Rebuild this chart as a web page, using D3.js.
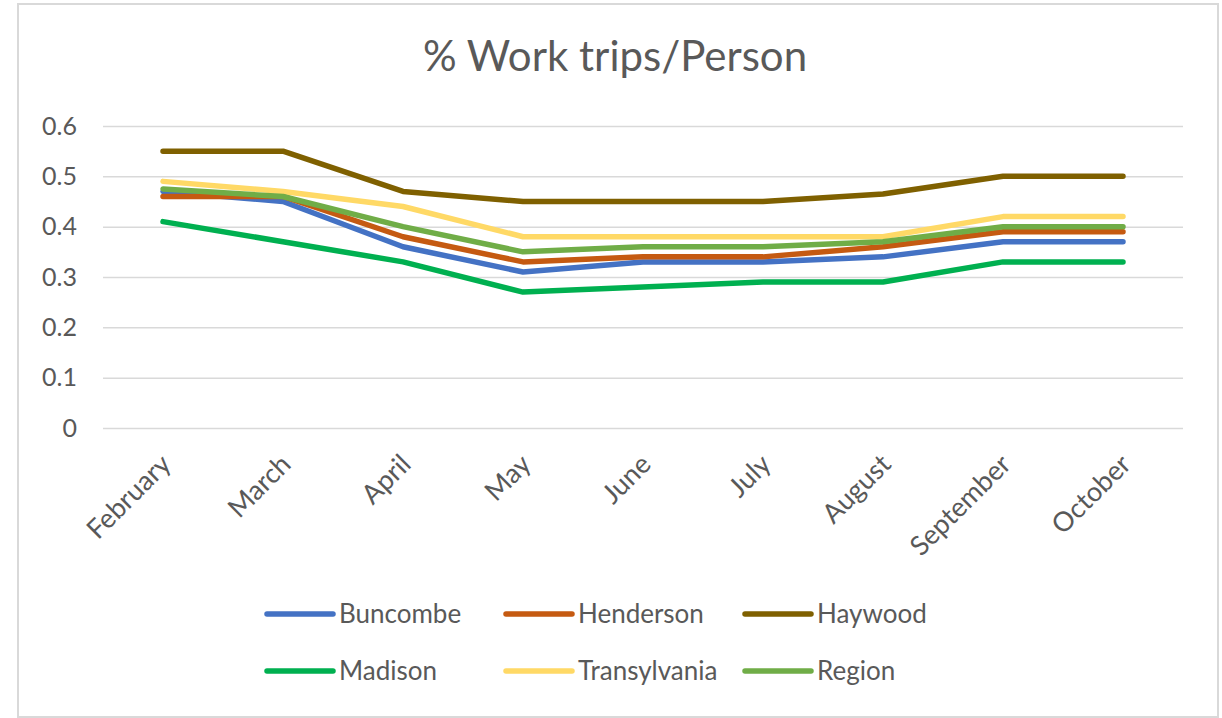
<!DOCTYPE html>
<html>
<head>
<meta charset="utf-8">
<script src="https://cdn.jsdelivr.net/npm/d3@7"></script>
<style>
  html, body { margin: 0; padding: 0; background: #ffffff; }
  svg { display: block; }
  text { font-family: Lato, "Open Sans", sans-serif; fill: #595959; }
</style>
</head>
<body>
<svg id="chart" width="1222" height="718"></svg>
<script>
// Monthly share of work trips per person, by county
const months = ["February", "March", "April", "May", "June", "July", "August", "September", "October"];
const seriesNames = ["Buncombe", "Henderson", "Haywood", "Madison", "Transylvania", "Region"];
const buncombe     = [0.47, 0.45, 0.36, 0.31, 0.33, 0.33, 0.34, 0.37, 0.37];
const henderson    = [0.46, 0.46, 0.38, 0.33, 0.34, 0.34, 0.36, 0.39, 0.39];
const haywood      = [0.55, 0.55, 0.47, 0.45, 0.45, 0.45, 0.465, 0.50, 0.50];
const madison      = [0.41, 0.37, 0.33, 0.27, 0.28, 0.29, 0.29, 0.33, 0.33];
const transylvania = [0.49, 0.47, 0.44, 0.38, 0.38, 0.38, 0.38, 0.42, 0.42];
const region       = [0.475, 0.46, 0.40, 0.35, 0.36, 0.36, 0.37, 0.40, 0.40];
const yTicks = [0, 0.1, 0.2, 0.3, 0.4, 0.5, 0.6];
const colors = ["#4472C4", "#C55A11", "#7F6000", "#00B050", "#FFD966", "#70AD47"];

const seriesValues = [buncombe, henderson, haywood, madison, transylvania, region];
const series = seriesNames.map((name, i) => ({ name, values: seriesValues[i], color: colors[i] }));

const svg = d3.select("#chart");

// chart frame
svg.append("rect")
  .attr("x", 18).attr("y", 4).attr("width", 1200).attr("height", 713)
  .attr("fill", "#ffffff").attr("stroke", "#d9d9d9").attr("stroke-width", 2);

const plot = { left: 103, right: 1183, top: 126, bottom: 428 };

const x = d3.scalePoint().domain(months).range([plot.left, plot.right]).padding(0.5);
const y = d3.scaleLinear().domain([0, 0.6]).range([plot.bottom, plot.top]);

// title
svg.append("text")
  .attr("x", 615).attr("y", 71)
  .attr("text-anchor", "middle")
  .style("font-size", "42px")
  .text("% Work trips/Person");

// horizontal gridlines + y labels
const yAxis = d3.axisLeft(y).tickValues(yTicks).tickSize(-(plot.right - plot.left)).tickPadding(26)
  .tickFormat(d => d === 0 ? "0" : d3.format(".1f")(d));
const yG = svg.append("g").attr("transform", `translate(${plot.left},0)`).call(yAxis);
yG.select(".domain").remove();
yG.selectAll(".tick line").attr("stroke", "#d9d9d9").attr("stroke-width", 1.5);
yG.selectAll(".tick text").style("font-size", "25px").attr("fill", "#595959")
  .style("font-family", "Lato, 'Open Sans', sans-serif");

// category labels, rotated
const xAxis = d3.axisBottom(x).tickSize(0).tickPadding(0);
const xG = svg.append("g").attr("transform", `translate(0,${plot.bottom})`).call(xAxis);
xG.select(".domain").remove();
xG.selectAll(".tick text")
  .style("font-size", "27px").attr("fill", "#595959")
  .style("font-family", "Lato, 'Open Sans', sans-serif")
  .attr("text-anchor", "end")
  .attr("dy", null)
  .attr("y", 0)
  .attr("transform", "translate(9,38) rotate(-45)");

// series lines
const line = d3.line().x((d, i) => x(months[i])).y(d => y(d));
svg.append("g").selectAll("path").data(series).join("path")
  .attr("d", d => line(d.values))
  .attr("fill", "none")
  .attr("stroke", d => d.color)
  .attr("stroke-width", 5.5)
  .attr("stroke-linecap", "round")
  .attr("stroke-linejoin", "round");

// legend: two rows of three
const legend = svg.append("g");
series.forEach((s, i) => {
  const col = i % 3, row = Math.floor(i / 3);
  const lx = 265 + col * 239, ly = 614 + row * 57;
  const g = legend.append("g").attr("transform", `translate(${lx},${ly})`);
  g.append("line").attr("x1", 2).attr("x2", 68).attr("y1", 0).attr("y2", 0)
    .attr("stroke", s.color).attr("stroke-width", 5.5).attr("stroke-linecap", "round");
  g.append("text").attr("x", 74).attr("y", 0).attr("dy", "0.35em")
    .style("font-size", "26px").text(s.name);
});
</script>
</body>
</html>
